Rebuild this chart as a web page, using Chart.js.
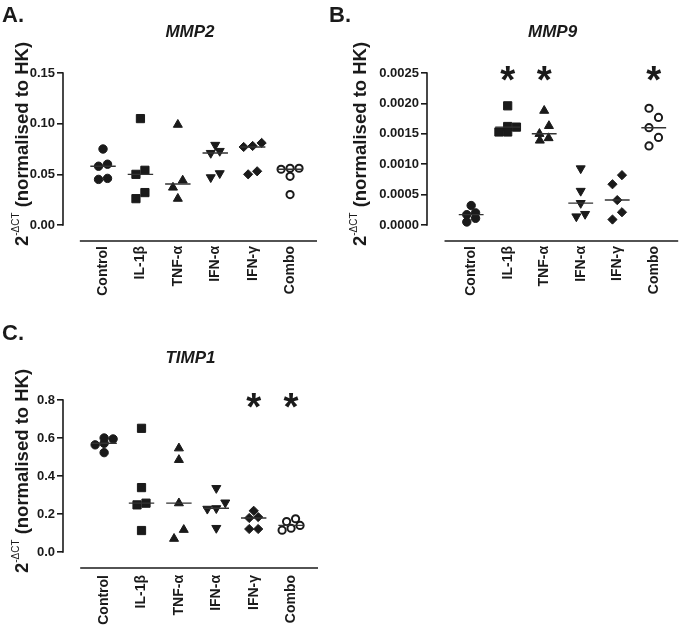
<!DOCTYPE html>
<html>
<head>
<meta charset="utf-8">
<script src="https://cdn.jsdelivr.net/npm/chart.js@4.4.1/dist/chart.umd.min.js"></script>
<style>
  html, body { margin: 0; padding: 0; background: #fff; }
  #page { position: relative; width: 685px; height: 626px; overflow: hidden; }
  .panel { position: absolute; }
</style>
</head>
<body>
<div id="page">
  <div class="panel" style="left:0;top:0;width:340px;height:310px"><canvas id="chart-a"></canvas></div>
  <div class="panel" style="left:327px;top:0;width:358px;height:310px"><canvas id="chart-b"></canvas></div>
  <div class="panel" style="left:0;top:310px;width:340px;height:316px"><canvas id="chart-c"></canvas></div>
</div>
<script>
// =====================
// Values (one row per group, same order as categories)
// =====================
const categories = ['Control', 'IL-1β', 'TNF-α', 'IFN-α', 'IFN-γ', 'Combo'];

// A. MMP2
const mmp2Values = [
    [0.075, 0.060, 0.058, 0.046, 0.045],   // Control
    [0.105, 0.054, 0.050, 0.032, 0.026],   // IL-1b
    [0.099, 0.044, 0.037, 0.026],          // TNF-a (only 4 points)
    [0.079, 0.073, 0.071, 0.051, 0.047],   // IFN-a
    [0.081, 0.078, 0.077, 0.053, 0.050],   // IFN-g
    [0.056, 0.056, 0.055, 0.048, 0.030]    // Combo
];
const mmp2Ticks = [0, 0.05, 0.10, 0.15];
const mmp2Significant = [];

// B. MMP9
const mmp9Values = [
    [0.00032, 0.00020, 0.00017, 0.00011, 0.00005],
    [0.00196, 0.00162, 0.00161, 0.00153, 0.00153],
    [0.00188, 0.00163, 0.00150, 0.00143, 0.00139],
    [0.00093, 0.00056, 0.00036, 0.00018, 0.00014],
    [0.00082, 0.00067, 0.00041, 0.00021, 0.00009],
    [0.00192, 0.00177, 0.00160, 0.00144, 0.00130]
];
const mmp9Ticks = [0, 0.0005, 0.0010, 0.0015, 0.0020, 0.0025];
const mmp9Significant = ['IL-1β', 'TNF-α', 'Combo'];

// C. TIMP1
const timp1Values = [
    [0.600, 0.595, 0.572, 0.564, 0.523],
    [0.651, 0.339, 0.257, 0.248, 0.113],
    [0.546, 0.485, 0.257, 0.117, 0.070],
    [0.336, 0.260, 0.230, 0.227, 0.126],
    [0.217, 0.184, 0.179, 0.121, 0.121],
    [0.175, 0.160, 0.140, 0.125, 0.115]
];
const timp1Ticks = [0, 0.2, 0.4, 0.6, 0.8];
const timp1Significant = ['IFN-γ', 'Combo'];


// =====================
// Look
// =====================
const INK = '#1a1a1a';
const FONT = "'Liberation Sans', Arial, sans-serif";
const PLOT_HEIGHT = 152;        // pixels from 0 to the top tick
const AXIS_GAP = 16;            // x axis sits this far below zero

// marker per group, GraphPad style
const markerStyles = [
    { style: 'circle', radius: 4.2 },
    { style: 'rect', radius: 5.8 },
    { style: 'triangle', radius: 5.2 },
    { style: 'triangle', radius: 5.2, rotation: 180 },
    { style: 'rectRot', radius: 4.6 },
    { style: 'circle', radius: 3.6, open: true }
];


// Points that would sit on top of each other are put side by side,
// near neighbours zig-zag a little like in the GraphPad scatter plot
function spread(values, pxPerUnit) {
    const step = 0.24;
    const half = 0.13;
    const order = values.map((v, i) => i).sort((a, b) => values[a] - values[b]);
    const offsets = new Array(values.length).fill(0);

    // rows of (almost) equal values
    const rows = [];
    let row = [];
    order.forEach(idx => {
        if (row.length && ((values[idx] - values[row[0]]) * pxPerUnit > 6.5 || row.length === 3)) {
            rows.push(row);
            row = [];
        }
        row.push(idx);
    });
    rows.push(row);

    rows.forEach(r => r.forEach((idx, k) => { offsets[idx] = (k - (r.length - 1) / 2) * step; }));

    // chains of single points that are still close
    let chain = [];
    const flushChain = () => {
        if (chain.length > 1) chain.forEach((idx, k) => { offsets[idx] = k % 2 ? half : -half; });
        chain = [];
    };
    rows.forEach(r => {
        if (r.length !== 1) { flushChain(); return; }
        const idx = r[0];
        const prev = chain[chain.length - 1];
        if (chain.length && (values[idx] - values[prev]) * pxPerUnit >= 11) flushChain();
        chain.push(idx);
    });
    flushChain();
    return offsets;
}

function median(values) {
    const s = [...values].sort((a, b) => a - b);
    const mid = Math.floor(s.length / 2);
    return s.length % 2 ? s[mid] : (s[mid - 1] + s[mid]) / 2;
}


// Draws what Chart.js has no option for: offset axes, panel letter,
// italic gene title, rotated group names, superscript axis title, asterisks
const decorations = {
    id: 'decorations',
    afterDraw(chart, args, opts) {
        const { ctx, chartArea } = chart;
        const x = chart.scales.x;
        const y = chart.scales.y;
        const top = y.getPixelForValue(opts.yMax);
        const zero = y.getPixelForValue(0);

        ctx.save();
        ctx.strokeStyle = INK;
        ctx.fillStyle = INK;
        ctx.lineWidth = 1.6;

        // y axis only from 0 to the last tick
        ctx.beginPath();
        ctx.moveTo(chartArea.left, zero + 0.8);
        ctx.lineTo(chartArea.left, top - 0.8);
        ctx.stroke();

        // x axis detached from the y axis
        ctx.beginPath();
        ctx.moveTo(x.getPixelForValue(opts.axisStart), chartArea.bottom);
        ctx.lineTo(chartArea.right, chartArea.bottom);
        ctx.stroke();

        // group names, reading upwards
        ctx.font = 'bold 14px ' + FONT;
        ctx.textAlign = 'right';
        ctx.textBaseline = 'middle';
        categories.forEach((name, i) => {
            ctx.save();
            ctx.translate(x.getPixelForValue(i), chartArea.bottom + opts.labelGap);
            ctx.rotate(-Math.PI / 2);
            ctx.fillText(name, 0, 0);
            ctx.restore();
        });

        // panel letter
        ctx.font = 'bold 22px ' + FONT;
        ctx.textAlign = 'left';
        ctx.textBaseline = 'alphabetic';
        ctx.fillText(opts.letter, 2, opts.letterBaseline);

        // gene name
        ctx.font = 'italic bold 17px ' + FONT;
        ctx.textAlign = 'center';
        ctx.fillText(opts.title, (chartArea.left + chartArea.right) / 2, opts.titleBaseline);

        // y title: 2^-dCT (normalised to HK), rotated
        ctx.save();
        ctx.translate(opts.yTitleX, (top + zero) / 2 - 5);
        ctx.rotate(-Math.PI / 2);
        ctx.textAlign = 'left';
        const big = 'bold 18.5px ' + FONT;
        const small = '10px ' + FONT;
        ctx.font = big;
        const w1 = ctx.measureText('2').width;
        const w3 = ctx.measureText(' (normalised to HK)').width;
        ctx.font = small;
        const w2 = ctx.measureText('-ΔCT').width;
        let pos = -(w1 + w2 + w3) / 2;
        ctx.font = big;
        ctx.fillText('2', pos, 6);
        pos += w1;
        ctx.font = small;
        ctx.fillText('-ΔCT', pos, -3);
        pos += w2;
        ctx.font = big;
        ctx.fillText(' (normalised to HK)', pos, 6);
        ctx.restore();

        // significance stars on the top tick level, about 15px wide
        ctx.font = 'bold 100px ' + FONT;
        const probe = ctx.measureText('*');
        const size = 100 * 15 / (probe.actualBoundingBoxLeft + probe.actualBoundingBoxRight);
        ctx.font = 'bold ' + size.toFixed(1) + 'px ' + FONT;
        ctx.textAlign = 'center';
        const m = ctx.measureText('*');
        const shift = (m.actualBoundingBoxAscent - m.actualBoundingBoxDescent) / 2;
        opts.significant.forEach(name => {
            const i = categories.indexOf(name);
            ctx.fillText('*', x.getPixelForValue(i), top + shift);
        });

        ctx.restore();
    }
};


function makePanel(canvasId, p) {
    const yMax = p.ticks[p.ticks.length - 1];
    const yMin = -yMax * AXIS_GAP / PLOT_HEIGHT;

    // median bars, drawn above the markers
    const medianData = [];
    p.values.forEach((vals, i) => {
        const m = median(vals);
        medianData.push({ x: i - 0.34, y: m }, { x: i + 0.34, y: m }, { x: i + 0.5, y: null });
    });

    const datasets = [{
        label: 'median',
        data: medianData,
        showLine: true,
        spanGaps: false,
        pointRadius: 0,
        borderColor: '#333',
        borderWidth: 1.4
    }];

    p.values.forEach((vals, i) => {
        const offs = spread(vals, PLOT_HEIGHT / yMax);
        const st = markerStyles[i];
        datasets.push({
            label: categories[i],
            data: vals.map((v, k) => ({ x: i + offs[k], y: v })),
            pointStyle: st.style,
            pointRadius: st.radius,
            pointRotation: st.rotation || 0,
            pointBackgroundColor: st.open ? '#fff' : INK,
            pointBorderColor: INK,
            pointBorderWidth: st.open ? 2 : 1,
            clip: false
        });
    });

    return new Chart(document.getElementById(canvasId), {
        type: 'scatter',
        data: { datasets },
        options: {
            responsive: true,
            maintainAspectRatio: false,
            animation: false,
            events: [],
            layout: { padding: { top: p.padTop, right: p.padRight, left: 0, bottom: 0 } },
            plugins: {
                legend: { display: false },
                tooltip: { enabled: false },
                decorations: {
                    letter: p.letter,
                    letterBaseline: p.letterBaseline,
                    title: p.title,
                    titleBaseline: p.titleBaseline,
                    yTitleX: p.yTitleX,
                    axisStart: p.axisStart,
                    labelGap: p.labelGap,
                    yMax: yMax,
                    significant: p.significant
                }
            },
            scales: {
                x: {
                    type: 'linear',
                    min: p.xMin,
                    max: p.xMax,
                    afterBuildTicks: s => { s.ticks = categories.map((c, i) => ({ value: i })); },
                    afterFit: s => { s.height = p.xAxisHeight; },
                    grid: { display: false },
                    border: { display: false },
                    ticks: { display: false }
                },
                y: {
                    min: yMin,
                    max: yMax,
                    afterBuildTicks: s => { s.ticks = p.ticks.map(v => ({ value: v })); },
                    afterFit: s => { s.width = p.yAxisWidth; },
                    border: { display: false },
                    grid: {
                        drawOnChartArea: false,
                        drawTicks: true,
                        tickLength: 6,
                        color: INK,
                        lineWidth: 1.6
                    },
                    ticks: {
                        padding: 2,
                        color: INK,
                        font: { family: FONT, size: 13, weight: 'bold' },
                        callback: v => v.toFixed(p.decimals)
                    }
                }
            }
        },
        plugins: [decorations]
    });
}


makePanel('chart-a', {
    letter: 'A.', letterBaseline: 22,
    title: 'MMP2', titleBaseline: 37,
    values: mmp2Values, ticks: mmp2Ticks, decimals: 2, significant: mmp2Significant,
    yAxisWidth: 63, yTitleX: 22, padTop: 73, padRight: 23, xAxisHeight: 69, labelGap: 5,
    xMin: -1.07, xMax: 5.72, axisStart: -0.62
});

makePanel('chart-b', {
    letter: 'B.', letterBaseline: 22,
    title: 'MMP9', titleBaseline: 37,
    values: mmp9Values, ticks: mmp9Ticks, decimals: 4, significant: mmp9Significant,
    yAxisWidth: 100, yTitleX: 33, padTop: 73, padRight: 2, xAxisHeight: 69, labelGap: 5,
    xMin: -1.21, xMax: 5.67, axisStart: -0.73
});

makePanel('chart-c', {
    letter: 'C.', letterBaseline: 30,
    title: 'TIMP1', titleBaseline: 53,
    values: timp1Values, ticks: timp1Ticks, decimals: 1, significant: timp1Significant,
    yAxisWidth: 63, yTitleX: 22, padTop: 90, padRight: 22, xAxisHeight: 58, labelGap: 7,
    xMin: -1.1, xMax: 5.72, axisStart: -0.64
});
</script>
</body>
</html>
